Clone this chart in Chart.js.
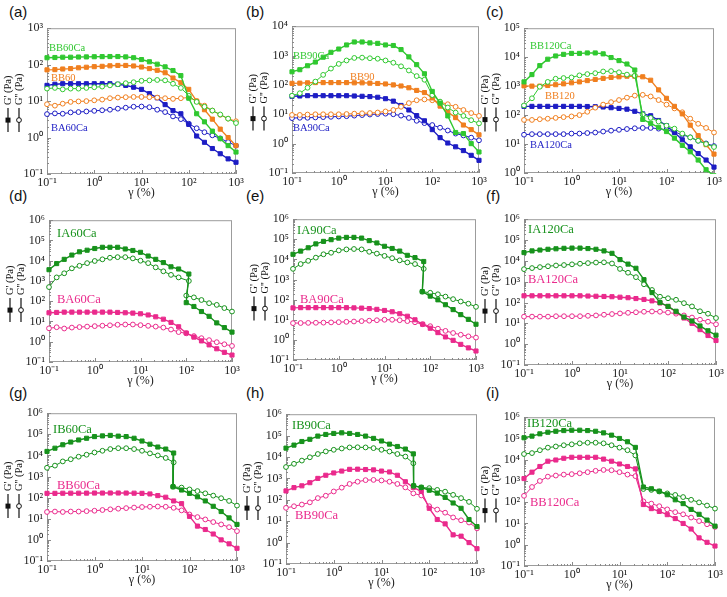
<!DOCTYPE html>
<html>
<head>
<meta charset="utf-8">
<script src="https://cdn.jsdelivr.net/npm/chart.js@4.4.1/dist/chart.umd.min.js"></script>
<style>
  html, body { margin: 0; padding: 0; background: #fff; }
  body { position: relative; width: 727px; height: 597px; overflow: hidden; }
  .tag { position: absolute; font: 15px "Liberation Sans", Arial, sans-serif; line-height: 15px; color: #111; }
</style>
</head>
<body>
<div class="tag" style="left:9px;top:4px">(a)</div>
<div class="tag" style="left:246px;top:4px">(b)</div>
<div class="tag" style="left:486px;top:4px">(c)</div>
<div class="tag" style="left:9px;top:188px">(d)</div>
<div class="tag" style="left:246px;top:188px">(e)</div>
<div class="tag" style="left:486px;top:188px">(f)</div>
<div class="tag" style="left:9px;top:385px">(g)</div>
<div class="tag" style="left:246px;top:385px">(h)</div>
<div class="tag" style="left:486px;top:385px">(i)</div>
<script>
// strain sweep, 6 points per decade
const strain = [0.1, 0.147, 0.215, 0.316, 0.464, 0.681, 1, 1.47, 2.15, 3.16, 4.64, 6.81, 10, 14.7, 21.5, 31.6, 46.4, 68.1, 100, 147, 215, 316, 464, 681, 1000];
// sweeps with a break (two points at almost the same strain)
const strainIA60 = [0.1, 0.147, 0.215, 0.316, 0.464, 0.681, 1, 1.47, 2.15, 3.16, 4.64, 6.81, 10, 14.7, 21.5, 31.6, 46.4, 68.1, 114, 100, 147, 215, 316, 464, 681, 1000];
const strainIA90 = [0.1, 0.147, 0.215, 0.316, 0.464, 0.681, 1, 1.47, 2.15, 3.16, 4.64, 6.81, 10, 14.7, 21.5, 31.6, 46.4, 72, 67, 100, 147, 215, 316, 464, 681, 1000];
const strainIB60 = [0.1, 0.147, 0.215, 0.316, 0.464, 0.681, 1, 1.47, 2.15, 3.16, 4.64, 6.81, 10, 14.7, 21.5, 31.6, 46.4, 45, 68.1, 100, 147, 215, 316, 464, 681, 1000];
const strainIB90 = [0.1, 0.147, 0.215, 0.316, 0.464, 0.681, 1, 1.47, 2.15, 3.16, 4.64, 6.81, 10, 14.7, 21.5, 31.6, 46.4, 47, 68.1, 100, 147, 215, 316, 464, 681, 1000];

// (a)  G1 = G', G2 = G''
const aBB60CaG1 = [155,157,160,160,162,163,165,166,167,167,163,155,138,120,103,87,69,50,12,4.5,2.7,1.5,0.93,0.6,0.4];
const aBB60CaG2 = [22,23,21,22,22,23,24,25,27,29,31,33,36,37,38,37,30,23,14,9.5,7,5.5,4.3,3.3,2.5];
const aBB60G1 = [72,73,76,78,82,85,88,90,93,95,95,92,86,78,70,60,43,32,21,10,5.8,3.2,1.7,1.0,0.6];
const aBB60G2 = [8.2,7.5,8.5,9.5,9.8,10,10.5,11,12,12.5,12.8,13,13,12.8,12.5,12,11.5,12,12.5,10,7.5,5.5,4.2,3.3,2.8];
const aBA60CaG1 = [27,29,30,30,30,30,30,30,30,29,27,24,21,16,12.3,8,5.5,4.5,2.3,1.1,0.74,0.5,0.36,0.26,0.21];
const aBA60CaG2 = [4.4,4.6,4.5,4.9,5.0,5.2,5.4,5.6,5.8,6.2,6.6,7.0,7.1,6.8,5.8,5.0,3.8,3.2,2.4,1.8,1.4,1.15,0.95,0.75,0.6];
// (b)
const bBB90CaG1 = [280,330,450,600,880,1290,1670,2300,2900,2900,2700,2600,2300,2200,1600,900,490,240,60,24,8.8,2.4,2.2,1.0,0.52];
const bBB90CaG2 = [43,52,80,130,220,360,520,680,830,850,810,780,680,570,430,310,200,150,45,27,17,11.4,8.8,6.3,4.9];
const bBB90G1 = [113,115,118,120,120,120,120,120,118,118,115,112,108,100,92,80,65,55,36,19,12,7.7,4.3,3.0,2.0];
const bBB90G2 = [9.5,9.5,9.8,10,10,10,10,10.2,10.5,10.8,11,11.5,12.5,14,18,24,30,32,30,26,22,18,14,11,8.8];
const bBA90CaG1 = [41,42,43,43,43,43,43,43,42,41,40,38,34,28,20,14,9,6,3,1.6,1.05,0.78,0.58,0.4,0.27];
const bBA90CaG2 = [7.4,7.6,7.6,7.8,8,8.2,8.4,8.6,9,9.4,9.8,10.2,10.5,10,9,7.5,6,5,4.3,3.5,2.8,2.2,1.9,1.6,1.3];
// (c)
const cBB120CaG1 = [1400,2500,5100,8500,11000,12500,13500,13500,14000,14000,13000,9700,7600,5800,3600,71,52,38,27,16,9,5.4,2.8,1.3,0.8];
const cBB120CaG2 = [215,380,950,1400,1800,1900,2000,2350,2600,2800,3200,3300,3000,2500,2300,105,80,60,43,34,23,17,13,10,7.9];
const cBB120G1 = [1020,1000,1000,1050,1120,1200,1300,1400,1550,1700,1850,2000,2100,2200,2200,2100,1600,740,380,200,110,45,19.5,9.5,4.5];
const cBB120G2 = [68,68,72,75,80,85,90,100,130,180,230,280,330,400,470,500,440,330,230,170,125,75,50,36,25];
const cBA120CaG1 = [200,200,200,200,200,200,200,200,198,195,190,180,170,160,135,110,95,65,43,25,14,8,4.7,2.8,1.6];
const cBA120CaG2 = [21,22,22,22,22,22,23,23,24,25,27,29,31,33,35,36,36,34,31,26,21,17,13,10.5,8.5];
// (d)
const dIA60CaG1 = [3600,7200,11700,19000,27500,33000,40000,46000,46000,46000,38000,32000,26000,17000,11700,8100,5000,3900,2200,85,55,31,18,8.5,5,3.0];
const dIA60CaG2 = [500,1500,2400,4200,5600,7600,9700,11700,14000,15000,15000,13000,10000,7600,4700,3000,2000,1500,1000,190,155,115,80,66,46,31];
const dBA60CaG1 = [27,28,29,29,29,29,29,29,29,28,27,26,24,21,17,13,9,5.5,2.7,1.7,1.1,0.7,0.45,0.3,0.22];
const dBA60CaG2 = [4.6,5.2,4.5,5,5.3,5.6,5.9,6.2,6.5,6.9,7.1,7.1,6.6,6.1,5.6,5,4,3,2.6,1.9,1.5,1.2,0.95,0.75,0.62];
// (e)
const eIA90CaG1 = [18000,26000,38000,59000,79000,96000,115000,125000,125000,115000,86000,66000,45000,35000,26000,16000,12300,7900,250,150,98,56,32,18,10.5,6.0];
const eIA90CaG2 = [3400,5900,8500,12300,18000,21500,28000,31500,33000,31500,24000,19500,15000,11500,9000,7100,5900,3400,250,220,185,142,106,81,63,44];
const eBA90CaG1 = [39,40,40,40,40,40,40,40,39,38,36,33,29,25,20,15,10,6,3.8,2.3,1.4,0.95,0.6,0.4,0.28];
const eBA90CaG2 = [6.8,6.9,7,7.1,7.2,7.4,7.6,7.9,8.2,8.6,9,9.5,10,10,9.5,8.6,7.5,6,4.8,3.6,2.8,2.2,1.8,1.5,1.3];
// (f)
const fIA120CaG1 = [25000,30000,33000,36000,38000,40000,41000,41000,39000,36000,30000,23000,11500,7000,4400,1250,300,100,65,38,20,13,7.5,4.4,2.7];
const fIA120CaG2 = [4000,4500,5000,5500,6000,6300,6800,7300,7800,8300,8500,7500,4100,2700,1650,750,400,190,160,135,93,65,38,29,18];
const fBA120CaG1 = [210,210,210,210,210,210,210,210,205,200,195,190,180,170,155,140,120,95,65,35,18,10,5,2.6,1.5];
const fBA120CaG2 = [21,21,21,21,22,22,22,22,23,24,26,28,30,32,34,36,37,36,33,29,24,19,15,12,9];
// (g)
const gIB60CaG1 = [15500,22000,32000,43000,54000,65000,78000,84000,89000,82000,78000,65000,48000,34000,25000,20000,13000,330,230,160,110,70,39,22,11,5.4];
const gIB60CaG2 = [2600,3300,5200,6600,8700,10800,13800,16600,20000,22000,22000,20000,16600,12500,10000,7600,4700,330,300,245,205,160,125,94,70,42];
const gBB60CaG1 = [160,160,162,163,163,164,165,165,166,166,165,163,160,150,125,105,70,52,13,4.5,3.1,1.9,1.0,0.65,0.4];
const gBB60CaG2 = [21,22,21,22,22,23,24,26,28,30,32,34,36,37,38,37,33,25,16,12,9.3,7,5.4,4,2.6];
// (h)
const hIB90CaG1 = [26000,36000,53000,67000,95000,113000,126000,135000,126000,113000,95000,74000,56000,40000,31000,23500,14000,450,380,280,205,130,71,40,12,5.6];
const hIB90CaG2 = [3400,4800,6800,9700,13800,18200,21700,25000,28000,28500,28000,26000,21700,18000,13800,10500,5100,450,380,350,290,240,170,120,80,38];
const hBB90CaG1 = [260,370,450,630,1000,1400,1800,2200,2650,2700,2600,2500,2200,2000,1400,700,380,245,40,12,7.5,2.3,2.0,1.0,0.52];
const hBB90CaG2 = [42,50,60,76,120,155,245,370,550,700,830,850,800,700,550,380,200,160,50,35,25,15,11,8.7,4.6];
// (i)
const iIB120CaG1 = [108000,129000,165000,196000,218000,235000,244000,244000,235000,218000,183000,143000,100000,70000,38000,520,430,330,225,130,86,46,27,14.5,7.5];
const iIB120CaG2 = [18500,20500,28000,37000,42000,48000,53000,59000,63000,63000,59000,48000,37000,28000,16000,420,380,320,260,220,175,130,98,70,50];
const iBB120CaG1 = [1300,2600,4800,8500,9700,11700,13000,13000,13000,13000,10700,8500,6300,4800,3700,78,50,37,26,17,10,5.5,2.1,1.3,0.87];
const iBB120CaG2 = [200,520,1000,1600,1800,2000,2100,2300,2600,3000,3300,3200,2600,2000,1700,110,86,65,46,34,27,19,13,9.2,6.9];

const GREEN = '#30c830', ORANGE = '#f07f1f', BLUE = '#1d1dc4', DKGREEN = '#17921c', PINK = '#ea2a8c';
const SERIF = '"Liberation Serif", "Times New Roman", serif';

// [x, y, colour, open marker]
const panels = [
  { box: [47, 25, 236, 174], yRange: [0.1, 1e3], nameSize: 10.5,
    series: [[strain, aBB60CaG1, GREEN, false], [strain, aBB60CaG2, GREEN, true],
             [strain, aBB60G1, ORANGE, false], [strain, aBB60G2, ORANGE, true],
             [strain, aBA60CaG1, BLUE, false], [strain, aBA60CaG2, BLUE, true]],
    names: [['BB60Ca', GREEN, 2, 20], ['BB60', ORANGE, 4, 50], ['BA60Ca', BLUE, 4, 100]] },
  { box: [292, 23, 479, 173], yRange: [0.1, 1e4], nameSize: 10.5,
    series: [[strain, bBB90CaG1, GREEN, false], [strain, bBB90CaG2, GREEN, true],
             [strain, bBB90G1, ORANGE, false], [strain, bBB90G2, ORANGE, true],
             [strain, bBA90CaG1, BLUE, false], [strain, bBA90CaG2, BLUE, true]],
    names: [['BB90Ca', GREEN, 1, 30], ['BB90', ORANGE, 58, 51], ['BA90Ca', BLUE, 1, 102]] },
  { box: [524, 25, 714, 173], yRange: [1, 1e5], nameSize: 10.5,
    series: [[strain, cBB120CaG1, GREEN, false], [strain, cBB120CaG2, GREEN, true],
             [strain, cBB120G1, ORANGE, false], [strain, cBB120G2, ORANGE, true],
             [strain, cBA120CaG1, BLUE, false], [strain, cBA120CaG2, BLUE, true]],
    names: [['BB120Ca', GREEN, 6, 18], ['BB120', ORANGE, 21, 68], ['BA120Ca', BLUE, 6, 117]] },
  { box: [49, 217, 232, 362], yRange: [0.1, 1e6], nameSize: 12.5,
    series: [[strainIA60, dIA60CaG1, DKGREEN, false], [strainIA60, dIA60CaG2, DKGREEN, true],
             [strain, dBA60CaG1, PINK, false], [strain, dBA60CaG2, PINK, true]],
    names: [['IA60Ca', DKGREEN, 8, 14], ['BA60Ca', PINK, 8, 80]] },
  { box: [293, 216, 476, 360], yRange: [0.1, 1e6], nameSize: 12.5,
    series: [[strainIA90, eIA90CaG1, DKGREEN, false], [strainIA90, eIA90CaG2, DKGREEN, true],
             [strain, eBA90CaG1, PINK, false], [strain, eBA90CaG2, PINK, true]],
    names: [['IA90Ca', DKGREEN, 4, 12], ['BA90Ca', PINK, 7, 81]] },
  { box: [524, 216, 716, 365], yRange: [0.1, 1e6], nameSize: 12.5,
    series: [[strain, fIA120CaG1, DKGREEN, false], [strain, fIA120CaG2, DKGREEN, true],
             [strain, fBA120CaG1, PINK, false], [strain, fBA120CaG2, PINK, true]],
    names: [['IA120Ca', DKGREEN, 4, 11], ['BA120Ca', PINK, 4, 61]] },
  { box: [47, 410, 237, 561], yRange: [0.1, 1e6], nameSize: 12.5,
    series: [[strainIB60, gIB60CaG1, DKGREEN, false], [strainIB60, gIB60CaG2, DKGREEN, true],
             [strain, gBB60CaG1, PINK, false], [strain, gBB60CaG2, PINK, true]],
    names: [['IB60Ca', DKGREEN, 6, 17], ['BB60Ca', PINK, 10, 73]] },
  { box: [286, 411, 477, 564], yRange: [0.1, 1e6], nameSize: 12.5,
    series: [[strainIB90, hIB90CaG1, DKGREEN, false], [strainIB90, hIB90CaG2, DKGREEN, true],
             [strain, hBB90CaG1, PINK, false], [strain, hBB90CaG2, PINK, true]],
    names: [['IB90Ca', DKGREEN, 6, 12], ['BB90Ca', PINK, 9, 102]] },
  { box: [524, 414, 715, 566], yRange: [0.1, 1e6], nameSize: 12.5,
    series: [[strain, iIB120CaG1, DKGREEN, false], [strain, iIB120CaG2, DKGREEN, true],
             [strain, iBB120CaG1, PINK, false], [strain, iBB120CaG2, PINK, true]],
    names: [['IB120Ca', DKGREEN, 3, 7], ['BB120Ca', PINK, 6, 86]] }
];

const SUP = { '-': '⁻', '0': '⁰', '1': '¹', '2': '²', '3': '³', '4': '⁴', '5': '⁵', '6': '⁶' };
const decadeLabel = (v) => '10' + String(Math.round(Math.log10(v))).split('').map(c => SUP[c]).join('');
const decades = (min, max) => {
  const out = [];
  for (let e = Math.round(Math.log10(min)); e <= Math.round(Math.log10(max)); e++) out.push(Math.pow(10, e));
  return out;
};

// frame, inner minor ticks, y title with symbols, sample names
const framePlugin = {
  id: 'frame',
  beforeDatasetsDraw(chart) {
    const { ctx, chartArea: a, scales } = chart;
    ctx.save();
    ctx.strokeStyle = '#9c9c9c';
    ctx.lineWidth = 1;
    ctx.strokeRect(a.left + 0.5, a.top + 0.5, a.right - a.left - 1, a.bottom - a.top - 1);
    ctx.strokeStyle = '#8a8a8a';
    ctx.beginPath();
    const ys = scales.y, xs = scales.x;
    decades(ys.min, ys.max).forEach(d => {
      for (let k = 1; k < 10; k++) {
        const v = d * k;
        if (v > ys.max * 1.0001) break;
        const py = Math.round(ys.getPixelForValue(v)) + 0.5;
        ctx.moveTo(a.left, py); ctx.lineTo(a.left + (k === 1 ? 4 : 2), py);
      }
    });
    decades(xs.min, xs.max).forEach(d => {
      for (let k = 1; k < 10; k++) {
        const v = d * k;
        if (v > xs.max * 1.0001) break;
        const px = Math.round(xs.getPixelForValue(v)) + 0.5;
        ctx.moveTo(px, a.bottom); ctx.lineTo(px, a.bottom - (k === 1 ? 4 : 2));
      }
    });
    ctx.stroke();
    ctx.restore();
  },
  afterDraw(chart, args, opts) {
    const { ctx, chartArea: a } = chart;
    const yc = (a.top + a.bottom) / 2;
    const column = (x, text, open) => {
      ctx.save();
      ctx.translate(x, yc);
      ctx.rotate(-Math.PI / 2);
      ctx.strokeStyle = '#111';
      ctx.lineWidth = 1.2;
      ctx.beginPath(); ctx.moveTo(-31, 0); ctx.lineTo(-7, 0); ctx.stroke();
      if (open) {
        ctx.fillStyle = '#fff';
        ctx.lineWidth = 1;
        ctx.beginPath(); ctx.arc(-19, 0, 2.4, 0, Math.PI * 2); ctx.fill(); ctx.stroke();
      } else {
        ctx.fillStyle = '#111';
        ctx.fillRect(-21.5, -2.5, 5, 5);
      }
      ctx.fillStyle = '#111';
      ctx.font = '10.5px ' + SERIF;
      ctx.textAlign = 'left';
      ctx.textBaseline = 'middle';
      ctx.fillText(text, -4, 0);
      ctx.restore();
    };
    column(a.left - 39, "G' (Pa)", false);
    column(a.left - 28, "G'' (Pa)", true);

    ctx.save();
    ctx.font = opts.size + 'px ' + SERIF;
    ctx.textAlign = 'left';
    ctx.textBaseline = 'middle';
    opts.names.forEach(([text, color, dx, dy]) => {
      ctx.fillStyle = color;
      ctx.fillText(text, a.left + dx, a.top + dy);
    });
    ctx.restore();
  }
};

const AX = 48, PT = 8, PR = 14, XB = 30;

panels.forEach(p => {
  const [L, T, R, B] = p.box;
  const w = R - L + AX + PR, h = B - T + PT + XB;
  const canvas = document.createElement('canvas');
  canvas.width = w; canvas.height = h;
  canvas.style.cssText = `position:absolute;left:${L - AX}px;top:${T - PT}px;width:${w}px;height:${h}px`;
  document.body.appendChild(canvas);

  const datasets = p.series.map(([xs, ys, color, open]) => ({
    data: ys.map((y, i) => ({ x: xs[i], y: y })),
    borderColor: color,
    backgroundColor: open ? '#ffffff' : color,
    pointBackgroundColor: open ? '#ffffff' : color,
    pointBorderColor: color,
    pointStyle: open ? 'circle' : 'rect',
    pointRadius: open ? 2.4 : 2.9,
    pointBorderWidth: 1,
    borderWidth: open ? 1 : 1.4,
    tension: 0,
    clip: { left: 5, top: 5, right: 5, bottom: 1 }
  }));

  const tickFont = { family: SERIF, size: 12 };
  new Chart(canvas, {
    type: 'line',
    data: { datasets },
    options: {
      responsive: false,
      animation: false,
      events: [],
      layout: { padding: { top: PT, right: PR, left: 0, bottom: 0 } },
      scales: {
        x: {
          type: 'logarithmic', min: 0.1, max: 1000,
          afterBuildTicks: s => { s.ticks = decades(0.1, 1000).map(v => ({ value: v })); },
          afterFit: s => { s.height = XB; },
          ticks: { callback: v => decadeLabel(v), font: tickFont, color: '#222', padding: 2, maxRotation: 0, autoSkip: false },
          grid: { display: false, drawTicks: false },
          border: { display: false },
          title: { display: true, text: 'γ (%)', font: { family: SERIF, size: 12 }, color: '#222', padding: { top: 0, bottom: 4 } }
        },
        y: {
          type: 'logarithmic', min: p.yRange[0], max: p.yRange[1],
          afterBuildTicks: s => { s.ticks = decades(p.yRange[0], p.yRange[1]).map(v => ({ value: v })); },
          afterFit: s => { s.width = AX; },
          ticks: { callback: v => decadeLabel(v), font: tickFont, color: '#222', padding: 4, autoSkip: false },
          grid: { display: false, drawTicks: false },
          border: { display: false }
        }
      },
      plugins: {
        legend: { display: false },
        tooltip: { enabled: false },
        frame: { names: p.names, size: p.nameSize }
      }
    },
    plugins: [framePlugin]
  });
});
</script>
</body>
</html>
